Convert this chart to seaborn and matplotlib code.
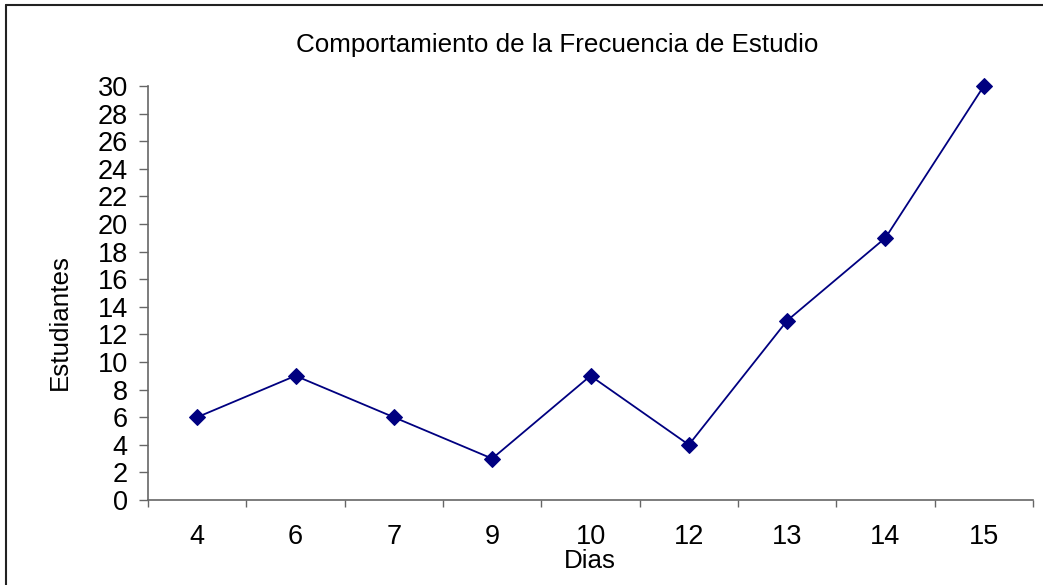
import matplotlib
matplotlib.use("Agg")
import matplotlib.pyplot as plt
import seaborn as sns
import numpy as np
import pandas as pd
from matplotlib.lines import Line2D

dias = ["4", "6", "7", "9", "10", "12", "13", "14", "15"]
estudiantes = [6, 9, 6, 3, 9, 4, 13, 19, 30]

sns.set_style("white")
plt.rcParams['font.family'] = ['Liberation Sans', 'DejaVu Sans']
plt.rcParams['text.color'] = 'black'
plt.rcParams['xtick.color'] = 'black'
plt.rcParams['ytick.color'] = 'black'

W, H = 1043, 585
fig = plt.figure(figsize=(W/100, H/100), dpi=100)
ax = fig.add_axes([148/W, 1-500/H, (1033-148)/W, (500-86)/H])

df = pd.DataFrame({"Dias": dias, "Estudiantes": estudiantes})
sns.lineplot(data=df, x="Dias", y="Estudiantes", ax=ax, color="#000080",
             marker="D", markersize=8, markeredgecolor="#000080",
             linewidth=1.3, sort=False, clip_on=False)

n = len(dias)
ax.set_xlim(-0.5, n-0.5)
ax.set_ylim(0, 30)
ax.set_yticks(np.arange(0, 31, 2))
ax.set_xticks(np.arange(-0.5, n, 1.0))
ax.set_xticklabels([])
ax.set_xticks(np.arange(n), minor=True)
ax.set_xticklabels(dias, minor=True)
ax.tick_params(axis='x', which='major', direction='out', length=5, width=1, color='#666666', bottom=True)
ax.tick_params(axis='x', which='minor', length=0, labelsize=19.5, pad=17, labelcolor='black')
ax.tick_params(axis='y', direction='out', length=6.5, width=1, color='#666666', left=True,
               labelsize=19.5, pad=8, labelcolor='black')
for s in ['top', 'right']:
    ax.spines[s].set_visible(False)
for s in ['left', 'bottom']:
    ax.spines[s].set_color('#666666')
    ax.spines[s].set_linewidth(1.2)
ax.set_xlabel("")
ax.set_ylabel("")
ax.grid(False)

fig.text(557/W, 1-45/H, "Comportamiento de la Frecuencia de Estudio", ha='center', va='center', fontsize=18.7, color='black')
fig.text(590/W, 1-561/H, "Dias", ha='center', va='center', fontsize=18.7, color='black')
fig.text(60/W, 1-322/H, "Estudiantes", ha='center', va='center', rotation=90, fontsize=18.7, color='black')

# figure border (top and left visible)
fig.add_artist(Line2D([6/W, 6/W], [0, 1-5/H], transform=fig.transFigure, color='#222222', linewidth=1.5))
fig.add_artist(Line2D([6/W, 1], [1-5/H, 1-5/H], transform=fig.transFigure, color='#222222', linewidth=1.5))

fig.savefig("out.png", dpi=100)
